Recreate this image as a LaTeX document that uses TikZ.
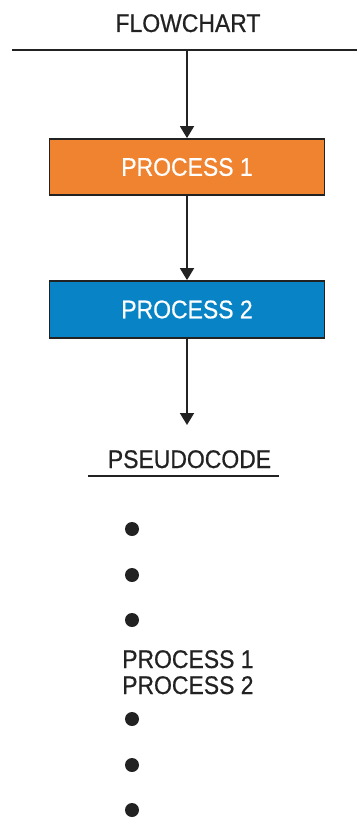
\documentclass[tikz,border=0pt]{standalone}
\usepackage{fontspec}
\setmainfont{Liberation Sans}[FakeStretch=0.9,FakeBold=0.6]
\usetikzlibrary{arrows.meta}
\definecolor{ink}{HTML}{222222}
\definecolor{orangebox}{HTML}{F0832F}
\definecolor{bluebox}{HTML}{0884C6}
\begin{document}
\begin{tikzpicture}[x=1pt,y=-1pt,
  line/.style={draw=ink,line width=1.8pt},
  arrowline/.style={line,-{Triangle[width=14pt,length=12pt]}},
  procbox/.style={draw=ink,line width=1.8pt,minimum width=275pt,minimum height=56pt,inner sep=0pt,text=white,font=\fontsize{25.5}{28}\selectfont},
  label/.style={inner sep=0pt,text=ink,font=\fontsize{25.5}{28}\selectfont},
  bullet/.style={circle,fill=ink,inner sep=0pt,minimum size=14pt}]
\useasboundingbox (0,0) rectangle (357,818);
\node[label,anchor=base] (title) at (188,32) {FLOWCHART};
\coordinate (hl) at (12,50);
\coordinate (hr) at (357,50);
\coordinate (hm) at (187,50);
\draw[line] (hl) -- (hr);
\node[procbox,fill=orangebox] (p1) at (187,167) {PROCESS 1};
\node[procbox,fill=bluebox,minimum height=57pt] (p2) at (187,309.5) {PROCESS 2};
\coordinate (end) at (187,425);
\draw[arrowline] (hm) -- (p1.north);
\draw[arrowline] (p1.south) -- (p2.north);
\draw[arrowline] (p2.south) -- (end);
\node[label,anchor=base] (pseudo) at (189.5,468) {PSEUDOCODE};
\coordinate (ul) at (88,476);
\coordinate (ur) at (279,476);
\draw[line] (ul) -- (ur);
\node[bullet] (b1) at (132,529) {};
\node[bullet] (b2) at (132,575) {};
\node[bullet] (b3) at (132,620) {};
\node[label,anchor=base west] (l1) at (122,668) {PROCESS 1};
\node[label,anchor=base west] (l2) at (122,694) {PROCESS 2};
\node[bullet] (b4) at (132,719) {};
\node[bullet] (b5) at (132,765) {};
\node[bullet] (b6) at (132,810) {};
\end{tikzpicture}
\end{document}
